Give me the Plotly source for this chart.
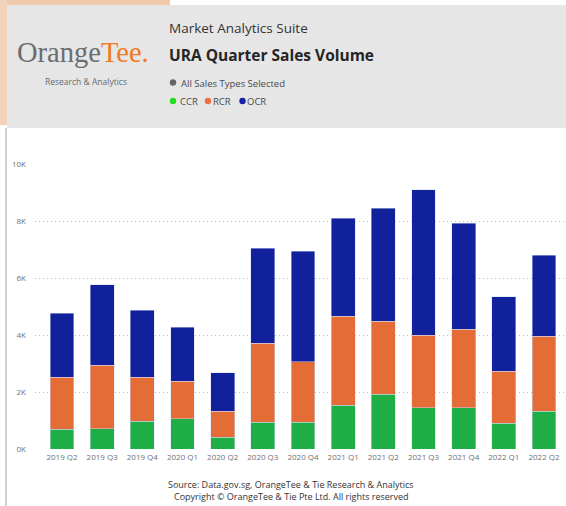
import plotly.graph_objects as go

quarters = ["2019 Q2", "2019 Q3", "2019 Q4", "2020 Q1", "2020 Q2", "2020 Q3", "2020 Q4",
            "2021 Q1", "2021 Q2", "2021 Q3", "2021 Q4", "2022 Q1", "2022 Q2"]
ccr = [690, 713, 971, 1064, 409, 947, 947, 1544, 1930, 1450, 1450, 901, 1333]
rcr = [1836, 2234, 1555, 1310, 913, 2772, 2117, 3111, 2549, 2550, 2760, 1836, 2632]
ocr = [2235, 2819, 2351, 1895, 1345, 3322, 3872, 3439, 3965, 5088, 3720, 2608, 2842]
y_ticks = [0, 2000, 4000, 6000, 8000, 10000]
y_tick_labels = ["0K", "2K", "4K", "6K", "8K", "10K"]

W, H = 566, 506
L, R, T, B = 35, 566, 164, 449  # plot area in pixels

def px(x):
    return (x - L) / (R - L)

def py(y):
    return (B - y) / (B - T)

fig = go.Figure()
colors = {"CCR": "#1fae45", "RCR": "#e46c37", "OCR": "#10219b"}
for name, vals in [("CCR", ccr), ("RCR", rcr), ("OCR", ocr)]:
    fig.add_trace(go.Bar(
        x=quarters, y=vals, name=name,
        marker=dict(color=colors[name], line=dict(color="rgba(215,220,245,0.8)", width=0.6)),
    ))

font = "Open Sans, Noto Sans, sans-serif"
shapes = [
    # peach splash top-left
    dict(type="rect", xref="paper", yref="paper", x0=px(0), x1=px(170), y0=py(0), y1=py(5),
         fillcolor="#f1c9ab", line_width=0, layer="below"),
    dict(type="rect", xref="paper", yref="paper", x0=px(0), x1=px(7), y0=py(0), y1=py(125),
         fillcolor="#f3d3bb", line_width=0, layer="below"),
    # header panel
    dict(type="rect", xref="paper", yref="paper", x0=px(7), x1=px(566), y0=py(5), y1=py(128),
         fillcolor="#e6e6e6", line_width=0, layer="below"),
    # left shadow line below header
    dict(type="line", xref="paper", yref="paper", x0=px(6), x1=px(6), y0=py(128), y1=py(506),
         line=dict(color="#d0d0d0", width=2), layer="below"),
]

def add_dot(cx, cy, color, r=3.2):
    shapes.append(dict(type="circle", xref="paper", yref="paper",
                       x0=px(cx - r), x1=px(cx + r), y0=py(cy - r), y1=py(cy + r),
                       fillcolor=color, line_width=0))

add_dot(173, 82.5, "#666666")
add_dot(173, 101, "#22dd22")
add_dot(208, 101, "#ee7040")
add_dot(242.5, 101, "#1a1fa8")

def label(x, y, text, size, color="#4a4a4a", anchor="left", fam=font):
    return dict(x=px(x), y=py(y), xref="paper", yref="paper", xanchor=anchor, yanchor="middle",
                text=text, showarrow=False, font=dict(family=fam, size=size, color=color))

annotations = [
    label(83, 53, "Orange<span style='color:#f27a21'>Tee.</span>", 28.5, "#6b6d70", "center",
          "Liberation Serif, DejaVu Serif, serif"),
    label(86, 81, "Research &amp; Analytics", 8.5, "#6a6a6a", "center"),
    label(167, 28, "Market Analytics Suite", 13.5, "#333333"),
    label(167, 55, "<b>URA Quarter Sales Volume</b>", 15.5, "#252525"),
    label(179, 83, "All Sales Types Selected", 9.5),
    label(177.5, 101.5, "CCR", 9.5),
    label(211, 101.5, "RCR", 9.5),
    label(245, 101.5, "OCR", 9.5),
    label(291, 484, "Source: Data.gov.sg, OrangeTee &amp; Tie Research &amp; Analytics", 9,
          "#333333", "center"),
    label(291, 496, "Copyright © OrangeTee &amp; Tie Pte Ltd. All rights reserved", 9,
          "#333333", "center"),
]

fig.update_layout(
    width=W, height=H,
    margin=dict(l=L, r=W - R, t=T, b=H - B, pad=0),
    barmode="stack", bargap=0.41,
    showlegend=False,
    paper_bgcolor="white", plot_bgcolor="white",
    shapes=shapes, annotations=annotations,
    font=dict(family=font),
    xaxis=dict(range=[-0.672, 12.548], showgrid=False, showline=False, zeroline=False,
               tickfont=dict(size=8, color="#707070"), ticks="", ticklabelstandoff=2),
    yaxis=dict(range=[0, 10000], tickvals=y_ticks, ticktext=y_tick_labels,
               showgrid=True, gridcolor="#bdbdbd", griddash="1px,3px", gridwidth=1,
               zeroline=False, showline=False, ticks="", ticklabelstandoff=8,
               tickfont=dict(size=8, color="#707070")),
)

fig.write_html(
    "out.html",
    config={"displayModeBar": False},
    post_script="document.body.style.margin='0';document.body.style.overflow='hidden';",
)
